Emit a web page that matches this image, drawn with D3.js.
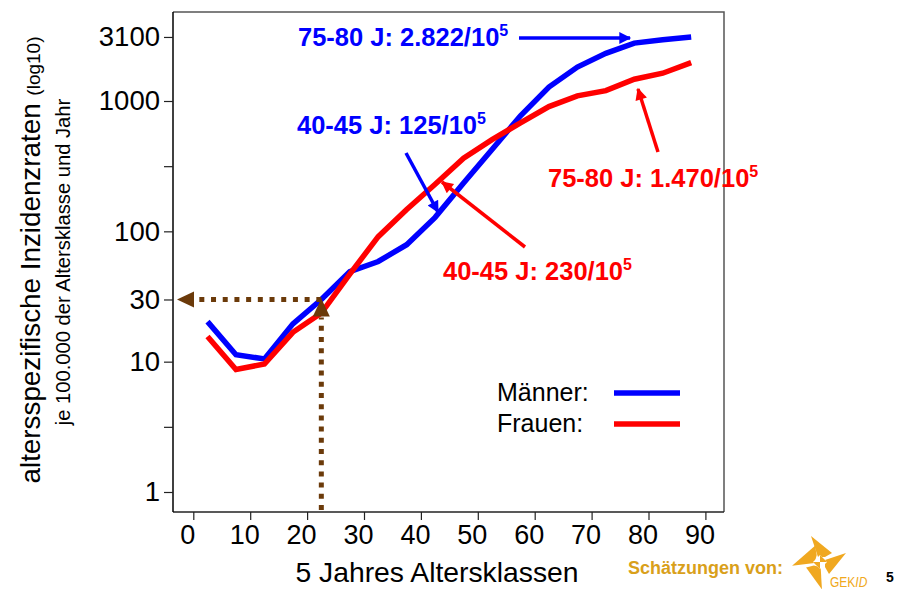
<!DOCTYPE html>
<html>
<head>
<meta charset="utf-8">
<script src="https://cdn.jsdelivr.net/npm/d3@7"></script>
<style>
  body { margin: 0; background: #fff; }
  svg { font-family: 'Liberation Sans', Arial, sans-serif; }
</style>
</head>
<body>
<div class="chart"></div>
<script>
// Altersklassen-Mitten (5-Jahres-Klassen)
var ages = [2.5, 7.5, 12.5, 17.5, 22.5, 27.5, 32.5, 37.5, 42.5, 47.5, 52.5, 57.5, 62.5, 67.5, 72.5, 77.5, 82.5, 87.5];
var maenner = [20.3, 11.3, 10.5, 19.5, 30, 49, 58.7, 79, 128, 235, 425, 770, 1280, 1820, 2320, 2780, 2950, 3100];
var frauen = [15.6, 8.7, 9.6, 16.8, 23.6, 47, 91, 147, 230, 364, 505, 680, 906, 1094, 1202, 1470, 1634, 1972];
var xTicks = [0, 10, 20, 30, 40, 50, 60, 70, 80, 90];
var yTicks = [1, 3.162, 10, 30, 100, 316.2, 1000, 3100];
var yTickLabels = ['1', '', '10', '30', '100', '', '1000', '3100'];

var width = 897, height = 589;
var plot = {left: 173, right: 724, top: 12, bottom: 512};

var svg = d3.select('.chart').append('svg')
    .attr('width', width)
    .attr('height', height);

var x = d3.scaleLinear().domain([0, 90]).range([193.3, 705.4]);
var y = d3.scaleLog().domain([1, 1000]).range([492, 101]);

// Rahmen
svg.append('path')
    .attr('d', 'M' + plot.left + ',' + plot.top + 'H' + plot.right + 'V' + plot.bottom)
    .attr('fill', 'none')
    .attr('stroke', '#555')
    .attr('stroke-width', 1.5);

// x-Achse
var xAxis = svg.append('g')
    .attr('transform', 'translate(0,' + plot.bottom + ')')
    .call(d3.axisBottom(x).tickValues(xTicks).tickSize(8).tickSizeOuter(0));
xAxis.select('.domain').attr('d', 'M' + plot.left + ',0H' + plot.right).attr('stroke', '#222').attr('stroke-width', 1.5);
xAxis.selectAll('.tick line').attr('stroke', '#222').attr('stroke-width', 1.2);
xAxis.selectAll('.tick text')
    .attr('y', 13)
    .attr('dy', '0.71em')
    .attr('x', -6)
    .attr('font-size', 27)
    .attr('fill', '#000');

// y-Achse
var yAxis = svg.append('g')
    .attr('transform', 'translate(' + plot.left + ',0)')
    .call(d3.axisLeft(y).tickValues(yTicks).tickSize(9).tickSizeOuter(0)
        .tickFormat(function(d, i) { return yTickLabels[i] }));
yAxis.select('.domain').attr('d', 'M0,' + plot.top + 'V' + plot.bottom).attr('stroke', '#000').attr('stroke-width', 1.5);
yAxis.selectAll('.tick line').attr('stroke', '#222').attr('stroke-width', 1.2);
yAxis.selectAll('.tick text')
    .attr('x', -13)
    .attr('font-size', 27.5)
    .attr('fill', '#000');
svg.selectAll('g').attr('font-family', null);

// Achsentitel
svg.append('text')
    .attr('x', 437)
    .attr('y', 582)
    .attr('text-anchor', 'middle')
    .attr('font-size', 28.3)
    .text('5 Jahres Altersklassen');

var yTitle = svg.append('text')
    .attr('transform', 'translate(40,260) rotate(-90)')
    .attr('text-anchor', 'middle')
    .attr('font-size', 27.8);
yTitle.append('tspan').text('altersspezifische Inzidenzraten ');
yTitle.append('tspan').attr('font-size', 19).text('(log10)');

svg.append('text')
    .attr('transform', 'translate(70,262) rotate(-90)')
    .attr('text-anchor', 'middle')
    .attr('font-size', 20.2)
    .text('je 100.000 der Altersklasse und Jahr');

// Linien
var line = d3.line()
    .x(function(d) { return x(d[0]) })
    .y(function(d) { return y(d[1]) });

[[maenner, '#0000ff'], [frauen, '#ff0000']].forEach(function(s) {
    svg.append('path')
        .datum(ages.map(function(a, i) { return [a, s[0][i]] }))
        .attr('fill', 'none')
        .attr('stroke', s[1])
        .attr('stroke-width', 5.5)
        .attr('stroke-linejoin', 'miter')
        .attr('d', line);
});

// gepunktete Ablesepfeile (22,5 J -> 30)
var brown = '#6b3a0a';
var px = x(22.5), py = y(30);
svg.append('line')
    .attr('x1', px).attr('y1', py)
    .attr('x2', plot.left + 16).attr('y2', py)
    .attr('stroke', brown).attr('stroke-width', 5)
    .attr('stroke-dasharray', '5,6.7');
svg.append('path')
    .attr('d', 'M' + (plot.left + 4) + ',' + py + 'l17,-8v16z')
    .attr('fill', brown);
svg.append('line')
    .attr('x1', px).attr('y1', plot.bottom - 2)
    .attr('x2', px).attr('y2', py + 18)
    .attr('stroke', brown).attr('stroke-width', 5)
    .attr('stroke-dasharray', '5,6.2');
svg.append('path')
    .attr('d', 'M' + px + ',' + (py - 1) + 'l-8.5,18h17z')
    .attr('fill', brown);

// Annotationen
svg.append('defs').selectAll('marker')
    .data(['#0000ff', '#ff0000'])
    .enter().append('marker')
    .attr('id', function(d, i) { return 'arr' + i })
    .attr('viewBox', '0 0 10 10')
    .attr('refX', 9).attr('refY', 5)
    .attr('markerWidth', 4).attr('markerHeight', 3.4)
    .attr('markerUnits', 'strokeWidth')
    .attr('orient', 'auto')
    .append('path')
    .attr('d', 'M0,0L10,5L0,10z')
    .attr('fill', function(d) { return d });

var notes = [
    {pre: '75-80 J: 2.822/10', x: 298, y: 46, color: '#0000ff', m: 0, from: [519, 38], to: [630, 38]},
    {pre: '40-45 J: 125/10', x: 297, y: 134, color: '#0000ff', m: 0, from: [406, 153], to: [438, 212]},
    {pre: '75-80 J: 1.470/10', x: 548, y: 187, color: '#ff0000', m: 1, from: [658, 152], to: [638, 89]},
    {pre: '40-45 J: 230/10', x: 443, y: 280, color: '#ff0000', m: 1, from: [525, 247], to: [442, 182]}
];

notes.forEach(function(n) {
    var t = svg.append('text')
        .attr('x', n.x).attr('y', n.y)
        .attr('fill', n.color)
        .attr('font-weight', 'bold')
        .attr('font-size', 25.5);
    t.append('tspan').text(n.pre);
    t.append('tspan').attr('font-size', 16).attr('dy', -10).text('5');
    svg.append('line')
        .attr('x1', n.from[0]).attr('y1', n.from[1])
        .attr('x2', n.to[0]).attr('y2', n.to[1])
        .attr('stroke', n.color)
        .attr('stroke-width', 3.5)
        .attr('marker-end', 'url(#arr' + n.m + ')');
});

// Legende
var legend = [['Männer:', '#0000ff', 392], ['Frauen:', '#ff0000', 423]];
legend.forEach(function(l) {
    svg.append('text')
        .attr('x', 497).attr('y', l[2] + 9)
        .attr('font-size', 25)
        .text(l[0]);
    svg.append('line')
        .attr('x1', 614).attr('x2', 680)
        .attr('y1', l[2] + 1).attr('y2', l[2] + 1)
        .attr('stroke', l[1])
        .attr('stroke-width', 5.5);
});

// Fusszeile
svg.append('text')
    .attr('x', 628).attr('y', 574)
    .attr('fill', '#d9a01a')
    .attr('font-weight', 'bold')
    .attr('font-size', 18)
    .text('Schätzungen von:');

var orange = '#f0a820';
var logo = svg.append('g').attr('transform', 'translate(820,562)').attr('fill', orange);
[0, 90, 195, 285].forEach(function(r) {
    logo.append('path')
        .attr('transform', 'rotate(' + r + ')' + (r > 200 ? ' scale(1.2,1)' : ''))
        .attr('d', 'M-2,-5L-9,-26L12,-9L5,-5z');
});
logo.append('path').attr('d', 'M0,-7L7,0L0,7L-7,0z').attr('fill', '#fff');
logo.append('path').attr('d', 'M0,-7L7,0L0,0z');
logo.append('path').attr('d', 'M0,7L-7,0L0,0z');
var gek = svg.append('text')
    .attr('transform', 'translate(830,587) scale(0.8,1)')
    .attr('fill', orange)
    .attr('font-size', 15);
gek.append('tspan').text('GEK');
gek.append('tspan').attr('font-style', 'italic').text('ID');

svg.append('text')
    .attr('x', 886).attr('y', 582)
    .attr('font-weight', 'bold')
    .attr('font-size', 14)
    .text('5');
</script>
</body>
</html>
